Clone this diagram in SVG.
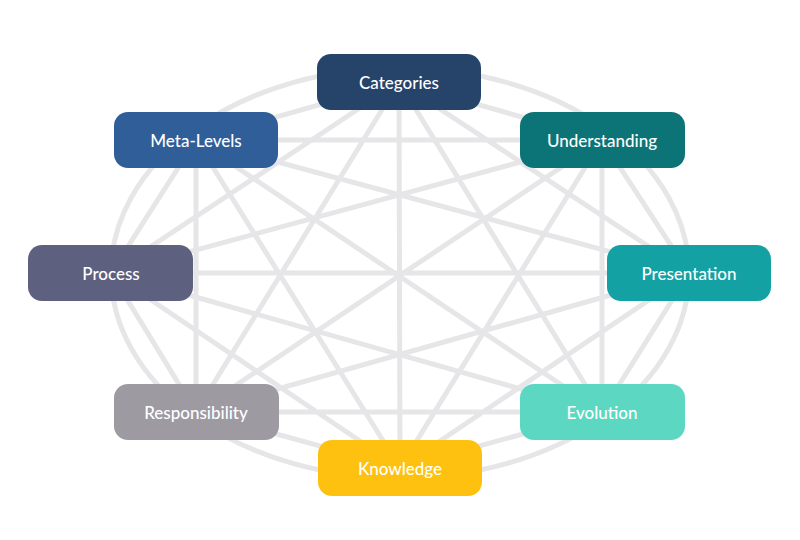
<svg xmlns="http://www.w3.org/2000/svg" width="800" height="540" viewBox="0 0 800 540">
<style>
.c{stroke:#e6e6e8;stroke-width:5;fill:none}
.n rect{rx:14;ry:14}
.n text{font-family:Lato,"Liberation Sans",sans-serif;font-size:17px;fill:#fff;text-anchor:middle;dominant-baseline:central;font-weight:500}
</style>
<rect width="800" height="540" fill="#fff"/>
<g id="connectors">
<ellipse class="c" cx="400" cy="273" rx="289" ry="205"/>
<path class="c" d="M399,82L602,140L689,273L602,412L400,468L196,412L111,273L196,140Z"/>
<path class="c" d="M399,82L689,273M399,82L602,412M399,82L400,468M399,82L196,412M399,82L111,273
M602,140L602,412M602,140L400,468M602,140L196,412M602,140L111,273M602,140L196,140
M689,273L400,468M689,273L196,412M689,273L111,273M689,273L196,140
M602,412L196,412M602,412L111,273M602,412L196,140
M400,468L111,273M400,468L196,140
M196,412L196,140"/>
</g>
<g id="categories" class="n"><rect x="317" y="54" width="164" height="56" fill="#26436a"/><text x="399" y="82">Categories</text></g>
<g id="understanding" class="n"><rect x="520" y="112" width="165" height="56" fill="#0c7476"/><text x="602" y="140">Understanding</text></g>
<g id="presentation" class="n"><rect x="607" y="245" width="164" height="56" fill="#13a1a3"/><text x="689" y="273">Presentation</text></g>
<g id="evolution" class="n"><rect x="520" y="384" width="165" height="56" fill="#5cd8c2"/><text x="602" y="412">Evolution</text></g>
<g id="knowledge" class="n"><rect x="318" y="440" width="164" height="56" fill="#fec10f"/><text x="400" y="468">Knowledge</text></g>
<g id="responsibility" class="n"><rect x="114" y="384" width="165" height="56" fill="#9d9aa2"/><text x="196" y="412">Responsibility</text></g>
<g id="process" class="n"><rect x="28" y="245" width="165" height="56" fill="#5e6080"/><text x="111" y="273">Process</text></g>
<g id="meta-levels" class="n"><rect x="114" y="112" width="164" height="56" fill="#2f5e99"/><text x="196" y="140">Meta-Levels</text></g>
</svg>
